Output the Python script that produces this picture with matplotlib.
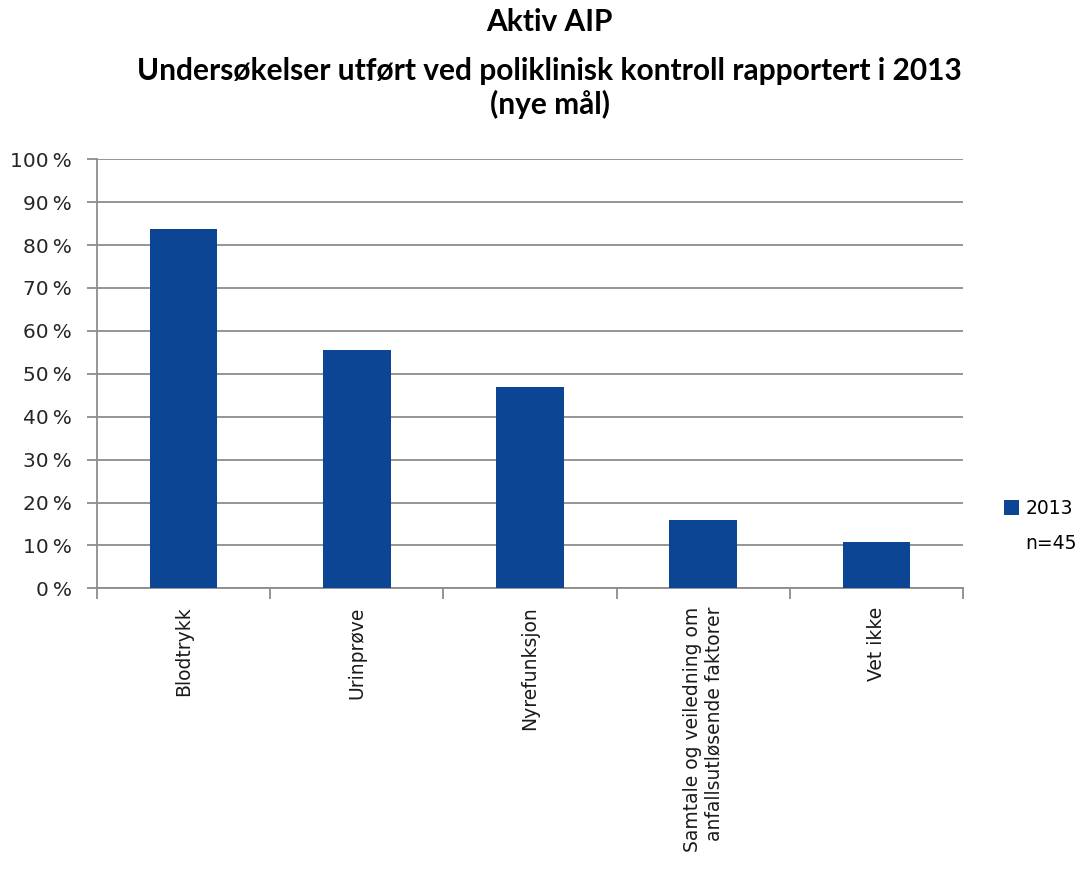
import matplotlib.pyplot as plt
from matplotlib.patches import Patch
import numpy as np

categories = ['Blodtrykk', 'Urinprøve', 'Nyrefunksjon',
              'Samtale og veiledning om\nanfallsutløsende faktorer', 'Vet ikke']
values_2013 = [83.8, 55.6, 46.9, 16.0, 10.9]  # prosent, n=45
yticks = [0, 10, 20, 30, 40, 50, 60, 70, 80, 90, 100]

bar_color = '#0B4594'
grid_color = '#8C8C8C'

fig = plt.figure(figsize=(10.8, 8.81), dpi=100)
ax = fig.add_axes([0.0898, 0.3322, 0.8019, 0.4870])

x = np.arange(len(categories))
bars = ax.bar(x, values_2013, width=0.39, color=bar_color, label='2013', zorder=3)

ax.set_xlim(-0.5, len(categories) - 0.5)
ax.set_ylim(0, 100)
ax.set_yticks(yticks)
ax.set_yticklabels([f'{v}\u2009%' for v in yticks], fontsize=14.5, color='#262626',
                   family='DejaVu Sans')
ax.yaxis.grid(True, color=grid_color, linewidth=1.3, zorder=0)
ax.tick_params(axis='y', length=7, width=1.3, color=grid_color, pad=11)

# kategorigrenser som tick-merker, etiketter midt i hver kategori
ax.set_xticks(np.arange(len(categories) + 1) - 0.5)
ax.set_xticklabels([])
ax.tick_params(axis='x', which='major', length=8, width=1.3, color=grid_color)
ax.set_xticks(x, minor=True)
ax.set_xticklabels(categories, minor=True, rotation=90, fontsize=13.5,
                   family='DejaVu Sans', va='top', ha='center',
                   multialignment='right', color='#1a1a1a')
ax.tick_params(axis='x', which='minor', length=0, pad=13)

for side in ['top', 'right']:
    ax.spines[side].set_visible(False)
for side in ['left', 'bottom']:
    ax.spines[side].set_color(grid_color)
    ax.spines[side].set_linewidth(1.3)

# tittel: første linje for seg, så undertittel med tettere linjeavstand
fig.text(0.509, 0.975, 'Aktiv AIP', fontsize=21.5, fontweight='bold',
         family='Lato', ha='center', va='center')
fig.text(0.509, 0.900,
         'Undersøkelser utført ved poliklinisk kontroll rapportert i 2013\n(nye mål)',
         fontsize=21.5, fontweight='bold', family='Lato', ha='center',
         va='center', linespacing=1.2)

handles = [bars, Patch(visible=False)]
leg = ax.legend(handles, ['2013', 'n=45'], loc='center left',
                bbox_to_anchor=(1.028, 0.145), frameon=False,
                prop={'family': 'DejaVu Sans', 'size': 13.5},
                handlelength=0.8, handleheight=0.8, handletextpad=0.35,
                labelspacing=0.85)

fig.savefig('out.png', dpi=100)
